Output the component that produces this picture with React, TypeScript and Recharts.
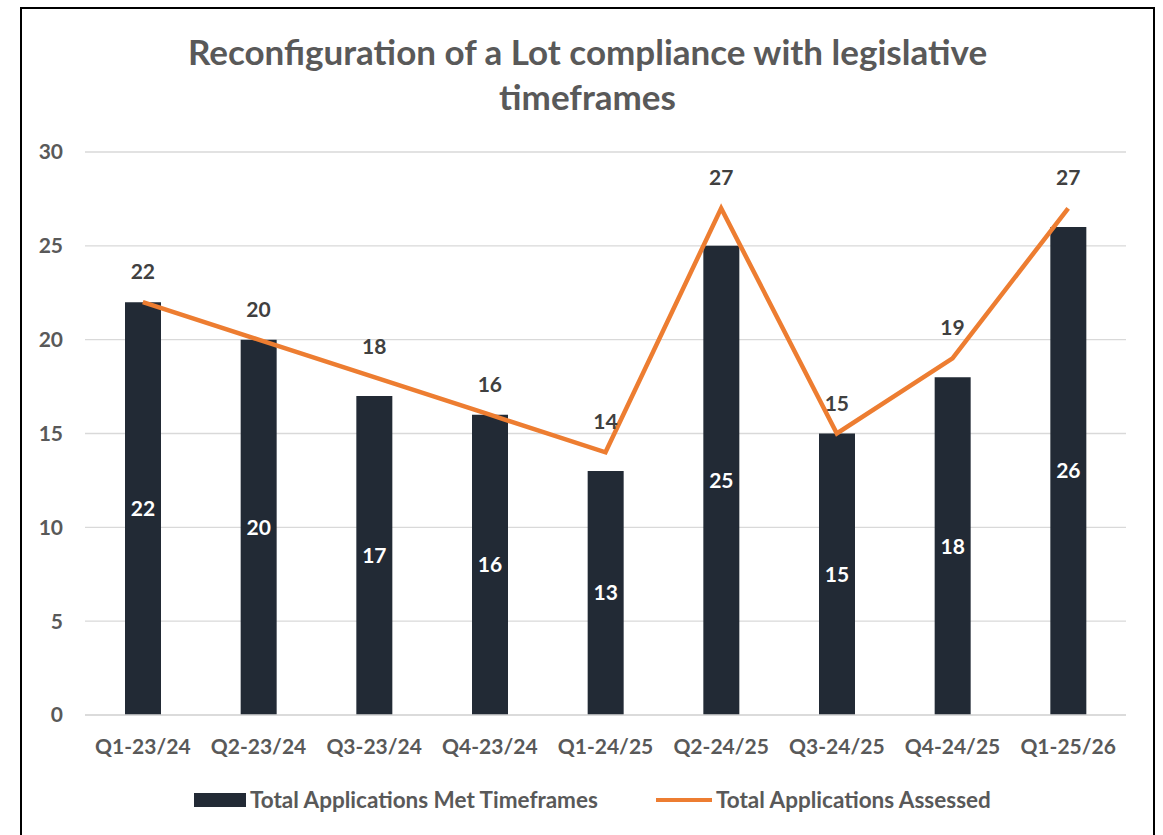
import React from "react";
import { ComposedChart, Bar, Line, XAxis, YAxis, CartesianGrid, LabelList, Legend } from "recharts";

const categories = ["Q1-23/24", "Q2-23/24", "Q3-23/24", "Q4-23/24", "Q1-24/25", "Q2-24/25", "Q3-24/25", "Q4-24/25", "Q1-25/26"];
const metTimeframes = [22, 20, 17, 16, 13, 25, 15, 18, 26];
const assessed = [22, 20, 18, 16, 14, 27, 15, 19, 27];
const yTicks = [0, 5, 10, 15, 20, 25, 30];

const data = categories.map((c, i) => ({ name: c, met: metTimeframes[i], assessed: assessed[i] }));

const FONT = "Lato, 'Noto Sans', sans-serif";
const GRAY = "#595959";

const LegendContent = () => (
  <div style={{ position: "relative", width: 1163, height: 30, fontFamily: FONT, fontWeight: 700, fontSize: 22.5, lineHeight: "30px", color: GRAY }}>
    <div style={{ position: "absolute", left: 194, top: 8, width: 52, height: 14, background: "#222a35" }} />
    <div style={{ position: "absolute", left: 250, top: 0, whiteSpace: "nowrap" }}>Total Applications Met Timeframes</div>
    <div style={{ position: "absolute", left: 656, top: 13, width: 56, height: 4, background: "#ed7d31" }} />
    <div style={{ position: "absolute", left: 716, top: 0, whiteSpace: "nowrap" }}>Total Applications Assessed</div>
  </div>
);

export default function App() {
  return (
    <div style={{ position: "absolute", left: 0, top: 0, width: 1163, height: 835, overflow: "hidden", background: "#fff" }}>
      <div style={{ position: "absolute", left: 20, top: 7, width: 1135, height: 850, border: "2px solid #000", boxSizing: "border-box" }} />
      <div style={{ position: "absolute", left: 0, top: 29, width: 1175, textAlign: "center", fontFamily: FONT, fontWeight: 700, fontSize: 35, lineHeight: "45px", color: GRAY }}>
        Reconfiguration of a Lot compliance with legislative
        <br />
        timeframes
      </div>
      <div style={{ position: "absolute", left: 0, top: 0 }}>
        <ComposedChart width={1163} height={835} data={data} margin={{ top: 152, right: 37, left: 20, bottom: 40 }} barCategoryGap={0}>
          <CartesianGrid vertical={false} stroke="#d9d9d9" strokeWidth={1.3} />
          <XAxis dataKey="name" height={50} axisLine={{ stroke: "#d9d9d9", strokeWidth: 1.5 }} tickLine={false} tickMargin={18}
            tick={{ fill: GRAY, fontFamily: FONT, fontWeight: 700, fontSize: 21 }} interval={0} />
          <YAxis width={65} domain={[0, 30]} ticks={yTicks} axisLine={false} tickLine={false} tickSize={0} tickMargin={22}
            tick={{ fill: GRAY, fontFamily: FONT, fontWeight: 700, fontSize: 21 }} />
          <Legend verticalAlign="bottom" content={<LegendContent />} wrapperStyle={{ position: "absolute", left: 0, top: 785, width: 1163 }} />
          <Bar dataKey="met" name="Total Applications Met Timeframes" fill="#222a35" barSize={36} isAnimationActive={false}>
            <LabelList dataKey="met" position="center" fill="#ffffff" style={{ fontFamily: FONT, fontWeight: 700, fontSize: 21 }} />
          </Bar>
          <Line dataKey="assessed" name="Total Applications Assessed" stroke="#ed7d31" strokeWidth={4.5} dot={false} activeDot={false} isAnimationActive={false}>
            <LabelList dataKey="assessed" position="top" offset={23} fill="#404040" style={{ fontFamily: FONT, fontWeight: 700, fontSize: 21 }} />
          </Line>
        </ComposedChart>
      </div>
    </div>
  );
}
